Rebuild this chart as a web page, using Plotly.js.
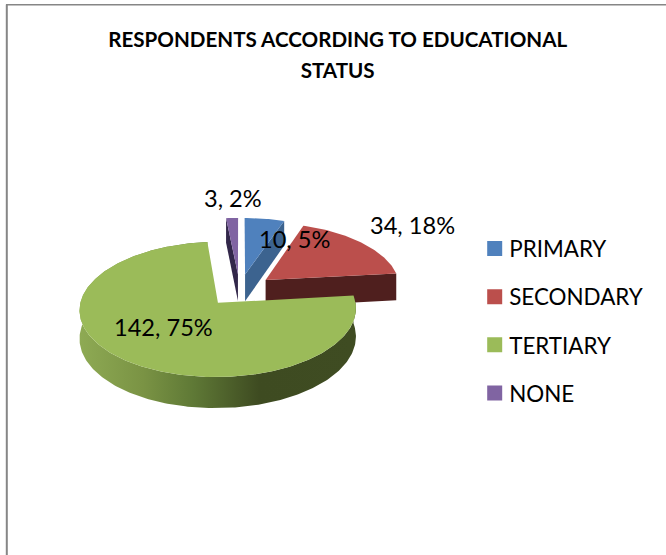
<!DOCTYPE html>
<html>
<head>
<meta charset="utf-8">
<script src="https://cdn.plot.ly/plotly-3.0.1.min.js"></script>
<style>
  html, body { margin: 0; padding: 0; background: #fff; overflow: hidden; }
  #chart { width: 666px; height: 555px; }
</style>
</head>
<body>
<div id="chart"></div>
<script>
// Respondents by educational status
const chartTitle = 'RESPONDENTS ACCORDING TO EDUCATIONAL<br>STATUS';
const categories = ['PRIMARY', 'SECONDARY', 'TERTIARY', 'NONE'];
const respondents = [10, 34, 142, 3];

// Slice colours: top face, and the darker cut face
const topColours = ['#4f81bd', '#bb4f4c', '#9bbb59', '#8064a2'];
const cutColours = ['#3c638f', '#4f1f1e', '#3c4a20', '#32274a'];
const rimGradient = [[0, '#8eaa54'], [0.23, '#7a9344'], [0.41, '#5f7936'], [0.65, '#3e4b21'], [1, '#3f4c22']];

// Tilted-disc projection, in page pixels
const view = { cx: 239.6, cy: 290, ax: 135, ay: 64.6, persp: 0.0955, depth: 27.5, explode: 0.25 };

// Label centres on the page, in slice order
const labelX = [294, 412, 163, 233];
const labelY = [239, 225, 327, 198];

const fontFamily = 'Lato, "Open Sans", sans-serif';
const rad = d => d * Math.PI / 180;
const total = respondents.reduce((a, b) => a + b, 0);

// Project a point on the disc (u to the right, v toward the viewer)
function project(u, v, lowered) {
  const w = 1 / (1 - view.persp * v);
  return {
    x: view.cx + view.ax * u * w,
    y: view.cy + view.ay * v * w + (lowered ? view.depth * w : 0)
  };
}

function polygon(points, colour, extra) {
  return Object.assign({
    type: 'scatter', mode: 'lines', fill: 'toself', fillcolor: colour,
    x: points.map(p => p.x), y: points.map(p => p.y),
    line: { width: 0, color: colour }, hoverinfo: 'skip', showlegend: false
  }, extra || {});
}

const traces = [];
const slices = [];
let running = 0;
respondents.forEach((value, i) => {
  const start = running / total * 360;
  running += value;
  const end = running / total * 360;
  const mid = (start + end) / 2;
  slices.push({ i, start, end, mid });
});

// Painted back to front so nearer slices cover farther ones
[0, 3, 1, 2].forEach(idx => {
  const s = slices[idx];
  const ou = view.explode * Math.sin(rad(s.mid));
  const ov = -view.explode * Math.cos(rad(s.mid));
  const rimPoint = (deg, low) => project(ou + Math.sin(rad(deg)), ov - Math.cos(rad(deg)), low);
  const hub = low => project(ou, ov, low);

  const arc = [];
  const steps = Math.max(4, Math.ceil(s.end - s.start));
  for (let k = 0; k <= steps; k++) arc.push(s.start + (s.end - s.start) * k / steps);

  // Outer rim, only where the slice reaches the near side
  if (s.start < 180 && s.end > 180) {
    const rim = arc.map(a => rimPoint(a, false)).concat(arc.slice().reverse().map(a => rimPoint(a, true)));
    const xs = rim.map(p => p.x);
    traces.push(polygon(rim, topColours[s.i], {
      fillgradient: {
        type: 'horizontal', colorscale: rimGradient,
        start: Math.min.apply(null, xs), stop: Math.max.apply(null, xs)
      }
    }));
  }
  // Cut faces that turn toward the viewer
  if (Math.sin(rad(s.end)) > 1e-6) {
    traces.push(polygon([hub(false), rimPoint(s.end, false), rimPoint(s.end, true), hub(true)], cutColours[s.i]));
  }
  if (Math.sin(rad(s.start)) < -1e-6) {
    traces.push(polygon([hub(false), rimPoint(s.start, false), rimPoint(s.start, true), hub(true)], cutColours[s.i]));
  }
  // Top face
  traces.push(polygon([hub(false)].concat(arc.map(a => rimPoint(a, false))), topColours[s.i]));
});

// Legend entries
categories.forEach((name, i) => {
  traces.push({
    type: 'scatter', mode: 'markers', name, x: [null], y: [null],
    legendgroup: name, showlegend: true, hoverinfo: 'skip',
    marker: { symbol: 'square', size: 15, color: topColours[i] }
  });
});

const annotations = respondents.map((value, i) => ({
  xref: 'x', yref: 'y', x: labelX[i], y: labelY[i],
  text: value + ', ' + Math.round(value / total * 100) + '%',
  showarrow: false, xanchor: 'center', yanchor: 'middle',
  font: { family: fontFamily, size: 23.6, color: '#000' }
}));

const hiddenAxis = { visible: false, fixedrange: true, showgrid: false, zeroline: false };
const layout = {
  width: 666, height: 555,
  margin: { l: 0, r: 0, t: 0, b: 0, pad: 0 },
  paper_bgcolor: '#fff', plot_bgcolor: '#fff',
  title: {
    text: chartTitle.split('<br>').map(t => '<span style="font-size:20.6px">' + t + '</span>').join('<br>'),
    x: 0.507, xanchor: 'center', y: 0.9156, yanchor: 'middle',
    font: { family: fontFamily, size: 24, color: '#000', weight: 'bold' }
  },
  xaxis: Object.assign({ range: [0, 666] }, hiddenAxis),
  yaxis: Object.assign({ range: [555, 0] }, hiddenAxis),
  showlegend: true,
  legend: {
    x: 0.7045, xanchor: 'left', y: 0.59, yanchor: 'top',
    tracegroupgap: 16, bgcolor: 'rgba(0,0,0,0)', borderwidth: 0,
    font: { family: fontFamily, size: 22.4, color: '#000' }
  },
  annotations,
  shapes: [
    { type: 'line', xref: 'paper', yref: 'paper', x0: 6.8 / 666, x1: 6.8 / 666, y0: 0, y1: 1 - 4.5 / 555, line: { color: '#868686', width: 2 } },
    { type: 'line', xref: 'paper', yref: 'paper', x0: 6 / 666, x1: 1, y0: 1 - 4.7 / 555, y1: 1 - 4.7 / 555, line: { color: '#868686', width: 1.5 } }
  ]
};

Plotly.newPlot('chart', traces, layout, { displayModeBar: false, staticPlot: true }).then(() => {
  // Pull legend swatches closer to their labels
  document.querySelectorAll('#chart .legend .legendsymbols').forEach(g => g.setAttribute('transform', 'translate(5.5,0)'));
});
</script>
</body>
</html>
